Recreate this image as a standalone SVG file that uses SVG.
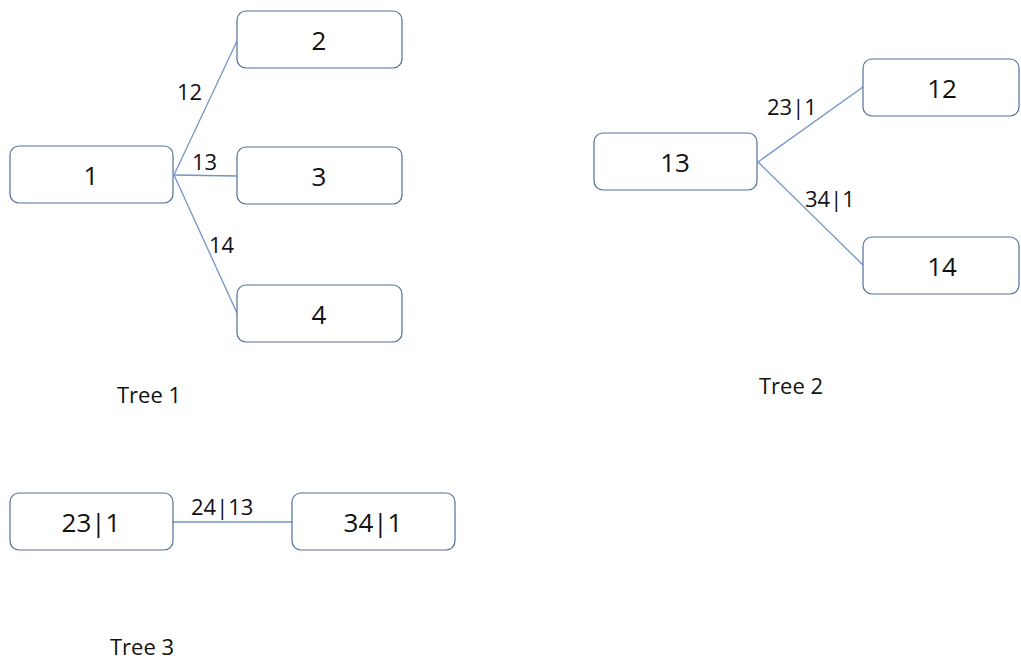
<svg xmlns="http://www.w3.org/2000/svg" width="1021" height="661" viewBox="0 0 1021 661">
  <style>
    .box { fill: #ffffff; stroke: #4f7199; stroke-width: 1.2; }
    .node { font-family: "Open Sans", "Liberation Sans", sans-serif; font-size: 26px; fill: #111; text-anchor: middle; }
    .edge { stroke: #7395c6; stroke-width: 1.3; fill: none; }
    .lbl { font-family: "Open Sans", "Liberation Sans", sans-serif; font-size: 22px; fill: #111; }
    .cap { font-family: "Open Sans", "Liberation Sans", sans-serif; font-size: 22px; fill: #111; }
  </style>
  <rect width="1021" height="661" fill="#ffffff"/>

  <!-- connectors -->
  <g id="connectors">
    <line class="edge" x1="174" y1="175" x2="237" y2="41"/>
    <line class="edge" x1="174" y1="175" x2="237" y2="176"/>
    <line class="edge" x1="174" y1="175" x2="237" y2="313"/>
    <line class="edge" x1="758" y1="162" x2="863" y2="87"/>
    <line class="edge" x1="758" y1="162" x2="863" y2="265"/>
    <line class="edge" x1="173" y1="522" x2="292" y2="522"/>
    <text class="lbl" x="177" y="100">12</text>
    <text class="lbl" x="192" y="170">13</text>
    <text class="lbl" x="209" y="253">14</text>
    <text class="lbl" x="767" y="115">23|1</text>
    <text class="lbl" x="805" y="207">34|1</text>
    <text class="lbl" x="191" y="515">24|13</text>
  </g>

  <!-- tree 1 -->
  <g id="t1-n1"><rect class="box" x="10" y="146" width="163" height="57" rx="9"/><text class="node" x="91" y="185">1</text></g>
  <g id="t1-n2"><rect class="box" x="237" y="11" width="165" height="57" rx="9"/><text class="node" x="319" y="50">2</text></g>
  <g id="t1-n3"><rect class="box" x="237" y="147" width="165" height="57" rx="9"/><text class="node" x="319" y="186">3</text></g>
  <g id="t1-n4"><rect class="box" x="237" y="285" width="165" height="57" rx="9"/><text class="node" x="319" y="324">4</text></g>
  <text class="cap" x="117" y="403">Tree 1</text>

  <!-- tree 2 -->
  <g id="t2-n13"><rect class="box" x="594" y="133" width="163" height="57" rx="9"/><text class="node" x="675" y="172">13</text></g>
  <g id="t2-n12"><rect class="box" x="863" y="59" width="156" height="57" rx="9"/><text class="node" x="942" y="98">12</text></g>
  <g id="t2-n14"><rect class="box" x="863" y="237" width="156" height="57" rx="9"/><text class="node" x="942" y="276">14</text></g>
  <text class="cap" x="759" y="394">Tree 2</text>

  <!-- tree 3 -->
  <g id="t3-n231"><rect class="box" x="10" y="493" width="163" height="57" rx="9"/><text class="node" x="91" y="532">23|1</text></g>
  <g id="t3-n341"><rect class="box" x="292" y="493" width="163" height="57" rx="9"/><text class="node" x="373" y="532">34|1</text></g>
  <text class="cap" x="110" y="655">Tree 3</text>
</svg>
